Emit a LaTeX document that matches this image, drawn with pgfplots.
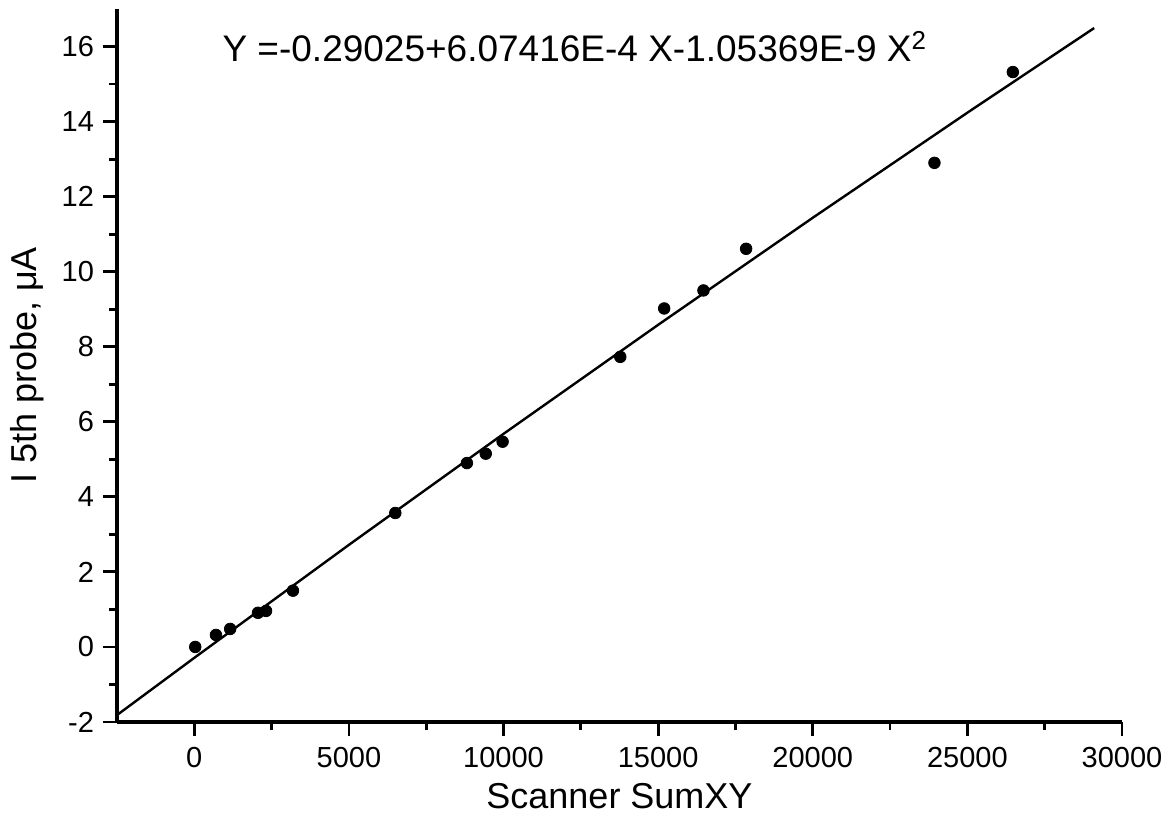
\documentclass[border=0pt]{standalone}
\usepackage{fontspec}
\setmainfont{Liberation Sans}
\usepackage{pgfplots}
\pgfplotsset{compat=1.18}

\begin{document}
\begin{tikzpicture}
\useasboundingbox (-58.5pt,-55pt) rectangle (526pt,361pt);
\begin{axis}[
    scale only axis,
    width=502.5pt,
    height=356.5pt,
    xmin=-2500, xmax=30000,
    ymin=-2, ymax=17,
    axis x line=bottom,
    axis y line=left,
    axis line style={-, line width=1.6pt},
    tick style={line width=1.4pt, black},
    tick align=outside,
    major tick length=7pt,
    minor tick length=4pt,
    xtick={0,5000,...,30000},
    ytick={-2,0,...,16},
    minor x tick num=1,
    minor y tick num=1,
    scaled x ticks=false,
    /pgf/number format/assume math mode=true,
    /pgf/number format/1000 sep={},
    tick label style={font=\fontsize{14.5}{16}\selectfont},
    xticklabel style={yshift=-2pt},
    yticklabel style={xshift=-1pt},
    label style={font=\fontsize{18}{20}\selectfont},
    xlabel={Scanner SumXY},
    ylabel={I 5th probe, μA},
    xlabel style={yshift=-1pt},
    ylabel style={yshift=2pt},
    clip=false,
]
% quadratic fit line
\addplot[black, line width=1.2pt] coordinates {
    (-2500,-1.815) (0,-0.290) (5000,2.721) (10000,5.679)
    (15000,8.584) (20000,11.437) (25000,14.237) (29100,16.493)
};
% measured points
\addplot[only marks, mark=*, mark size=2.9pt, black] coordinates {
    (30,0.00) (700,0.32) (1160,0.48) (2060,0.91) (2320,0.96)
    (3190,1.50) (6500,3.57) (8815,4.90) (9425,5.15) (9970,5.47)
    (13775,7.73) (15195,9.02) (16465,9.50) (17845,10.61)
    (23935,12.90) (26470,15.32)
};
\node[anchor=west, font=\fontsize{18.5}{20}\selectfont, inner sep=0pt]
    at (axis cs:900,16) {Y =-0.29025+6.07416E-4 X-1.05369E-9 X\textsuperscript{2}};
\end{axis}
\end{tikzpicture}
\end{document}
